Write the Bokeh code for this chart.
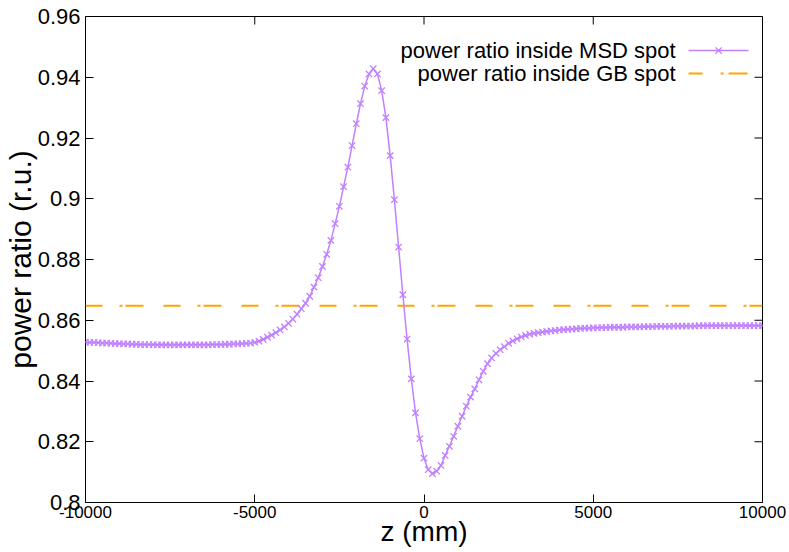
from bokeh.plotting import figure
from bokeh.models import FixedTicker, LinearAxis, Label, Range1d
from bokeh.embed import file_html
from bokeh.resources import INLINE

# ---- data ----
Z_START, Z_STOP, Z_STEP = -10000, 10000, 125
z_mm = list(range(Z_START, Z_STOP + 1, Z_STEP))

msd_ratio = [
    0.8528, 0.8527, 0.8527, 0.8526, 0.8525, 0.8525, 0.8524, 0.8523, 0.8523, 0.8522,
    0.8522, 0.8521, 0.8521, 0.8520, 0.8520, 0.8520, 0.8520, 0.8519, 0.8519, 0.8519,
    0.8519, 0.8519, 0.8519, 0.8519, 0.8519, 0.8519, 0.8519, 0.8519, 0.8519, 0.8519,
    0.8520, 0.8520, 0.8520, 0.8521, 0.8521, 0.8522, 0.8522, 0.8523, 0.8524, 0.8525,
    0.8527, 0.8531, 0.8537, 0.8544, 0.8551, 0.8559, 0.8568, 0.8578, 0.8590, 0.8604,
    0.8620, 0.8638, 0.8656, 0.8679, 0.8709, 0.8740, 0.8777, 0.8817, 0.8863, 0.8918,
    0.8975, 0.9040, 0.9104, 0.9175, 0.9247, 0.9313, 0.9371, 0.9411, 0.9428, 0.9411,
    0.9356, 0.9267, 0.9142, 0.8997, 0.8841, 0.8684, 0.8538, 0.8407, 0.8295, 0.8210,
    0.8146, 0.8108, 0.8095, 0.8103, 0.8122, 0.8155, 0.8185, 0.8218, 0.8251, 0.8284,
    0.8317, 0.8347, 0.8374, 0.8404, 0.8432, 0.8457, 0.8476, 0.8491, 0.8503, 0.8513,
    0.8524, 0.8532, 0.8539, 0.8545, 0.8550, 0.8554, 0.8557, 0.8559, 0.8561, 0.8563,
    0.8565, 0.8566, 0.8568, 0.8569, 0.8570, 0.8571, 0.8572, 0.8573, 0.8574, 0.8574,
    0.8575, 0.8575, 0.8576, 0.8576, 0.8577, 0.8577, 0.8577, 0.8577, 0.8578, 0.8578,
    0.8578, 0.8578, 0.8579, 0.8579, 0.8579, 0.8580, 0.8580, 0.8580, 0.8580, 0.8581,
    0.8581, 0.8581, 0.8581, 0.8581, 0.8581, 0.8582, 0.8582, 0.8582, 0.8582, 0.8582,
    0.8582, 0.8582, 0.8582, 0.8582, 0.8582, 0.8582, 0.8582, 0.8582, 0.8582, 0.8582,
    0.8582,
]
assert len(msd_ratio) == len(z_mm)

gb_ratio = 0.8648

x_ticks = [-10000, -5000, 0, 5000, 10000]
y_ticks = [0.80, 0.82, 0.84, 0.86, 0.88, 0.90, 0.92, 0.94, 0.96]
y_tick_labels = ["0.8", "0.82", "0.84", "0.86", "0.88", "0.9", "0.92", "0.94", "0.96"]

series_names = ["power ratio inside MSD spot", "power ratio inside GB spot"]
x_title = "z (mm)"
y_title = "power ratio (r.u.)"

# ---- style / layout ----
PURPLE = "#c080ff"
ORANGE = "#ffa500"
FONT = "Liberation Sans"
GB_DASH = "17 17 3 3 18 20"
X0, X1, Y0, Y1 = -10000, 10000, 0.8, 0.96
W, H = 789, 552
B_LEFT, B_RIGHT, B_TOP, B_BOTTOM = 84, 27, 16, 50
TICK_PX = 8
FRAME_W = W - B_LEFT - B_RIGHT
FRAME_H = H - B_TOP - B_BOTTOM
X_PER_PX = (X1 - X0) / FRAME_W
Y_PER_PX = (Y1 - Y0) / FRAME_H

p = figure(width=W, height=H,
           x_range=Range1d(X0, X1), y_range=Range1d(Y0, Y1),
           output_backend="svg", toolbar_location=None,
           min_border_left=B_LEFT, min_border_right=B_RIGHT,
           min_border_top=B_TOP, min_border_bottom=B_BOTTOM,
           x_axis_location=None, y_axis_location=None)
p.xgrid.visible = False
p.ygrid.visible = False
p.outline_line_color = "black"
p.outline_line_width = 1
p.outline_line_alpha = 1
p.background_fill_color = "white"
p.border_fill_color = "white"


def make_axis(ticks, overrides, size):
    ax = LinearAxis(ticker=FixedTicker(ticks=ticks))
    ax.axis_line_color = None
    ax.major_tick_in = TICK_PX
    ax.major_tick_out = 0
    ax.major_tick_line_color = "black"
    ax.major_tick_line_width = 1
    ax.minor_tick_line_color = None
    ax.major_label_text_font = FONT
    ax.major_label_text_color = "black"
    ax.major_label_text_font_size = size
    ax.major_label_overrides = overrides
    ax.axis_label_text_font = FONT
    ax.axis_label_text_font_style = "normal"
    ax.axis_label_text_color = "black"
    return ax


xa = make_axis(x_ticks, {t: str(t) for t in x_ticks}, "17px")
xa.major_label_standoff = 3
xa.axis_label = x_title
xa.axis_label_text_font_size = "28px"
xa.axis_label_standoff = -5
ya = make_axis(y_ticks, {t: l for t, l in zip(y_ticks, y_tick_labels)}, "22px")
ya.major_label_standoff = 5
ya.axis_label = y_title
ya.axis_label_text_font_size = "30px"
ya.axis_label_standoff = -2
p.add_layout(xa, "below")
p.add_layout(ya, "left")

# mirrored inward ticks on the top and right border (gnuplot style)
p.segment(x0=[X1 - TICK_PX * X_PER_PX] * len(y_ticks), y0=y_ticks,
          x1=[X1] * len(y_ticks), y1=y_ticks, line_color="black", line_width=1)
p.segment(x0=x_ticks, y0=[Y1] * len(x_ticks),
          x1=x_ticks, y1=[Y1 - TICK_PX * Y_PER_PX] * len(x_ticks),
          line_color="black", line_width=1)

# data series
p.line(z_mm, [gb_ratio] * len(z_mm), line_color=ORANGE, line_width=2, line_dash=GB_DASH)
p.line(z_mm, msd_ratio, line_color=PURPLE, line_width=1.5)
p.scatter(z_mm, msd_ratio, marker="x", size=9, line_color=PURPLE, line_width=1.3)

# legend (gnuplot style: text right-aligned, sample to the right)
LEG_TEXT_X = 7434
LEG_Y = [0.9488, 0.9412]
LEG_X0, LEG_X1 = 7817, 9587
for name, ly in zip(series_names, LEG_Y):
    p.add_layout(Label(x=LEG_TEXT_X, y=ly, text=name, text_align="right",
                       text_baseline="middle", text_font=FONT,
                       text_font_size="22px", text_color="black"))
p.line([LEG_X0, LEG_X1], [LEG_Y[0]] * 2, line_color=PURPLE, line_width=1.5)
p.scatter([(LEG_X0 + LEG_X1) / 2], [LEG_Y[0]], marker="x", size=9,
          line_color=PURPLE, line_width=1.3)
p.line([LEG_X0, LEG_X1], [LEG_Y[1]] * 2, line_color=ORANGE, line_width=2,
       line_dash="14 18 3 5 19 20")

open("out.html", "w").write(file_html(p, INLINE))
